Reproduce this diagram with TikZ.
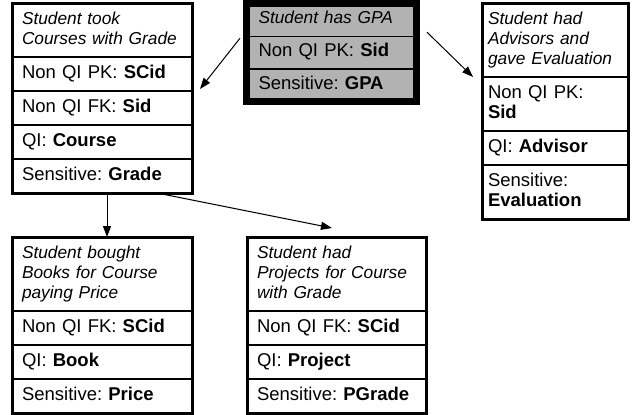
\documentclass[tikz,border=0pt]{standalone}
\usepackage{fontspec}
\setmainfont{Liberation Sans}
\frenchspacing
\usetikzlibrary{arrows.meta, calc, positioning}
\definecolor{gpagray}{RGB}{178,178,178}
\tikzstyle{cell} = [rectangle, draw=black, line width=1.2pt, text width=160pt, inner xsep=10pt, inner ysep=7pt, outer sep=0pt, align=left, font=\fontsize{18.5}{20}\selectfont, execute at begin node=\strut, execute at end node=\strut]
\tikzstyle{title} = [cell, font=\fontsize{17.3}{20}\selectfont\itshape]
\tikzstyle{narrow} = [text width=134pt, inner xsep=6pt]
\tikzstyle{gpacell} = [cell, fill=gpagray, text width=146pt, inner xsep=12pt, inner ysep=6pt, minimum height=32.7pt]
\tikzstyle{frame} = [draw=black, line width=3pt]
\tikzstyle{gpaframe} = [draw=black, line width=7pt]
\tikzstyle{arrow} = [line width=1pt, -{Triangle[length=11pt,width=8pt]}]

\begin{document}
\begin{tikzpicture}
		\useasboundingbox (0,0) rectangle (635pt,-415pt);
		
		\node (CourseTitle) [title, anchor=north west] at (12pt,-3pt) {Student took\\Courses with Grade};
		\node (CoursePK) [cell, below=0pt of CourseTitle] {Non QI PK: \textbf{SCid}};
		\node (CourseFK) [cell, below=0pt of CoursePK] {Non QI FK: \textbf{Sid}};
		\node (CourseQI) [cell, below=0pt of CourseFK] {QI: \textbf{Course}};
		\node (CourseSens) [cell, below=0pt of CourseQI] {Sensitive: \textbf{Grade}};
		\draw[frame] (CourseTitle.north west) rectangle (CourseSens.south east);
		
		\node (GPATitle) [gpacell, anchor=north west, font=\fontsize{17.3}{20}\selectfont\itshape] at (246.5pt,-3.5pt) {Student has GPA};
		\node (GPAPK) [gpacell, below=0pt of GPATitle] {Non QI PK: \textbf{Sid}};
		\node (GPASens) [gpacell, below=0pt of GPAPK] {Sensitive: \textbf{GPA}};
		\draw[gpaframe] (GPATitle.north west) rectangle (GPASens.south east);
		
		\node (AdvTitle) [title, narrow, anchor=north west] at (482pt,-3pt) {Student had\\Advisors and\\gave Evaluation};
		\node (AdvPK) [cell, narrow, below=0pt of AdvTitle] {Non QI PK:\\\textbf{Sid}};
		\node (AdvQI) [cell, narrow, below=0pt of AdvPK] {QI: \textbf{Advisor}};
		\node (AdvSens) [cell, narrow, below=0pt of AdvQI] {Sensitive:\\\textbf{Evaluation}};
		\draw[frame] (AdvTitle.north west) rectangle (AdvSens.south east);
		
		\node (BookTitle) [title, anchor=north west] at (12pt,-237pt) {Student bought\\Books for Course\\paying Price};
		\node (BookFK) [cell, below=0pt of BookTitle] {Non QI FK: \textbf{SCid}};
		\node (BookQI) [cell, below=0pt of BookFK] {QI: \textbf{Book}};
		\node (BookSens) [cell, below=0pt of BookQI] {Sensitive: \textbf{Price}};
		\draw[frame] (BookTitle.north west) rectangle (BookSens.south east);
		
		\node (ProjTitle) [title, text width=159pt, anchor=north west] at (247pt,-237pt) {Student had\\Projects for Course\\with Grade};
		\node (ProjFK) [cell, text width=159pt, below=0pt of ProjTitle] {Non QI FK: \textbf{SCid}};
		\node (ProjQI) [cell, text width=159pt, below=0pt of ProjFK] {QI: \textbf{Project}};
		\node (ProjSens) [cell, text width=159pt, below=0pt of ProjQI] {Sensitive: \textbf{PGrade}};
		\draw[frame] (ProjTitle.north west) rectangle (ProjSens.south east);
		
		\draw [arrow] ($(GPATitle.south west)+(-6.5pt,-2pt)$) -- ($(CoursePK.south east)+(8pt,2pt)$);
		\draw [arrow] ($(GPATitle.south east)+(10.5pt,4pt)$) -- ($(AdvTitle.south west)+(-9pt,0pt)$);
		\draw [arrow] ($(CourseSens.south)+(5pt,0pt)$) -- ($(BookTitle.north)+(5pt,0pt)$);
		\draw [arrow] ($(CourseSens.south east)+(-35pt,0pt)$) -- ($(ProjTitle.north)+(-4.5pt,9pt)$);
\end{tikzpicture}
\end{document}
